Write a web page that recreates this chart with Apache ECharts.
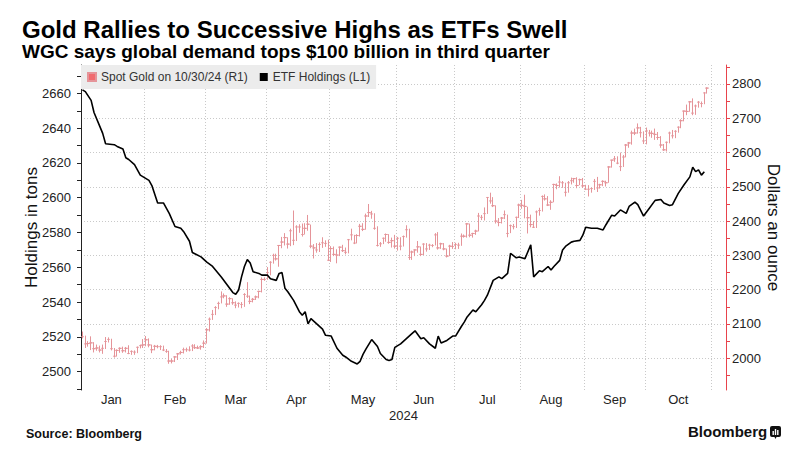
<!DOCTYPE html>
<html><head><meta charset="utf-8">
<script src="https://cdn.jsdelivr.net/npm/echarts@6/dist/echarts.min.js"></script>
<style>html,body{margin:0;padding:0;background:#fff}#c{width:807px;height:466px}</style>
</head><body><div id="c"></div>
<script>
const FONT = '"Liberation Sans", Arial, sans-serif';
const monthLabels = ['Jan','Feb','Mar','Apr','May','Jun','Jul','Aug','Sep','Oct'];
const leftLabelValues = [2500,2520,2540,2560,2580,2600,2620,2640,2660];
const leftTickValues = [2490,2500,2510,2520,2530,2540,2550,2560,2570,2580,2590,2600,2610,2620,2630,2640,2650,2660,2670];
const rightLabelValues = [2000,2100,2200,2300,2400,2500,2600,2700,2800];
const rightTickValues = [1950,2000,2050,2100,2150,2200,2250,2300,2350,2400,2450,2500,2550,2600,2650,2700,2750,2800,2850];

// Spot gold, one value per weekday from 2024-01-02 to 2024-10-30
const goldClose = [
 2063,2042,2043,2045,2028,2030,2024,2029,2049,2055,2028,2006,2023,2029,2022,2029,2014,2020,2018,2032,2037,2039,
 2054,2039,2025,2035,2034,2034,2024,2020,1992,1992,2004,2013,2017,2025,2025,2024,2036,2031,2030,2034,2044,
 2083,2114,2128,2148,2160,2179,2182,2158,2174,2162,2155,2160,2157,2186,2181,2166,2172,2179,2195,2230,2230,
 2250,2280,2300,2290,2329,2339,2352,2333,2372,2344,2383,2383,2361,2379,2391,2327,2322,2316,2332,2337,2335,2286,
 2320,2303,2301,2324,2314,2309,2346,2360,2336,2358,2385,2376,2415,2425,2421,2379,2329,2334,2350,2361,2338,2343,2327,
 2350,2327,2355,2375,2294,2310,2316,2325,2303,2333,2319,2330,2329,2360,2322,2334,2319,2298,2327,2326,
 2332,2330,2356,2356,2392,2359,2364,2371,2415,2411,2422,2469,2459,2445,2400,2396,2409,2419,2364,2387,2384,2411,2447,
 2446,2443,2410,2390,2382,2427,2431,2472,2465,2447,2455,2507,2504,2514,2512,2484,2512,2518,2524,2504,2521,2503,
 2493,2493,2495,2516,2497,2506,2516,2512,2558,2578,2582,2569,2559,2587,2622,2628,2657,2657,2672,2658,2634,
 2663,2657,2656,2653,2644,2622,2608,2630,2657,2649,2662,2674,2693,2721,2720,2748,2715,2736,2747,2743,2774,2788
];
const goldLow = [
 2058,2030,2034,2024,2017,2022,2017,2013,2027,2046,2023,2002,2005,2016,2016,2017,2012,2010,2010,2015,2029,2030,
 2035,2032,2015,2023,2029,2024,2021,2016,1984,1985,1989,1995,2011,2014,2019,2020,2021,2027,2027,2025,2030,
 2043,2078,2112,2126,2143,2160,2175,2150,2156,2156,2146,2148,2146,2150,2176,2158,2163,2170,2175,2192,2226,
 2229,2242,2276,2285,2267,2321,2329,2320,2327,2330,2342,2366,2355,2361,2372,2321,2291,2308,2310,2322,2325,2285,
 2281,2298,2277,2298,2310,2303,2306,2344,2333,2335,2355,2371,2375,2412,2407,2375,2326,2325,2333,2340,2334,2323,2320,
 2314,2315,2326,2352,2287,2287,2298,2308,2298,2301,2311,2316,2324,2329,2317,2319,2315,2294,2298,2319,
 2318,2319,2328,2352,2352,2353,2352,2360,2370,2403,2402,2421,2451,2441,2393,2385,2393,2406,2353,2365,2376,2380,2409,
 2436,2408,2364,2382,2380,2380,2416,2428,2460,2444,2433,2455,2493,2498,2497,2472,2483,2507,2512,2496,2505,2497,
 2492,2472,2483,2491,2485,2495,2502,2501,2512,2556,2573,2566,2546,2558,2586,2614,2623,2651,2655,2644,2625,
 2624,2647,2643,2637,2637,2614,2605,2603,2627,2641,2642,2658,2671,2691,2709,2719,2709,2710,2731,2732,2741,2772
];
const goldHigh = [
 2078,2066,2050,2064,2047,2040,2037,2040,2062,2061,2057,2030,2026,2032,2034,2033,2038,2023,2023,2034,2040,2056,
 2065,2058,2040,2039,2039,2038,2037,2027,2022,1998,2006,2015,2022,2031,2031,2035,2041,2041,2037,2038,2052,
 2088,2119,2141,2152,2165,2195,2189,2184,2178,2175,2166,2163,2164,2190,2222,2183,2176,2183,2197,2236,2236,
 2266,2283,2305,2305,2330,2354,2365,2353,2378,2431,2388,2391,2393,2394,2418,2390,2333,2336,2338,2353,2344,2346,
 2327,2326,2318,2326,2331,2323,2348,2378,2360,2362,2392,2394,2422,2450,2430,2423,2385,2339,2352,2364,2362,2352,2360,
 2354,2353,2358,2388,2378,2314,2317,2342,2326,2335,2336,2334,2333,2365,2368,2337,2336,2320,2331,2339,
 2337,2337,2364,2361,2394,2393,2366,2375,2424,2418,2440,2470,2483,2470,2446,2409,2412,2431,2419,2390,2392,2413,2451,
 2462,2477,2442,2419,2400,2431,2439,2475,2478,2473,2461,2509,2510,2531,2517,2512,2517,2527,2526,2528,2524,2526,
 2506,2505,2498,2523,2529,2509,2519,2518,2560,2578,2590,2589,2600,2593,2625,2631,2664,2670,2685,2675,2662,
 2673,2666,2664,2670,2660,2648,2625,2632,2661,2666,2665,2676,2697,2722,2740,2749,2758,2740,2750,2749,2775,2790
];

// ETF holdings (tons)
const etfDates = ['01-02','01-03','01-05','01-08','01-10','01-11','01-12','01-17','01-18','01-22','01-23','01-24','01-26','01-30',
 '02-02','02-05','02-07','02-09','02-13','02-15','02-19','02-20','02-22','02-23','02-28',
 '03-01','03-05','03-08','03-12','03-14','03-15','03-18','03-19','03-20','03-21','03-22','03-25','03-27','03-28',
 '04-01','04-02','04-04','04-05','04-08','04-09','04-10','04-12','04-16','04-17','04-18','04-19','04-22','04-24','04-26','04-29',
 '05-01','05-03','05-07','05-08','05-10','05-14','05-15','05-16','05-17','05-21','05-23','05-24','05-28','05-29','05-30','05-31',
 '06-04','06-06','06-10','06-11','06-13','06-14','06-18','06-20','06-21','06-24','06-26','06-28',
 '07-01','07-03','07-04','07-05','07-09','07-10','07-12','07-15','07-16','07-18','07-22','07-23','07-25','07-26','07-30','07-31',
 '08-02','08-06','08-07','08-09','08-12','08-14','08-15','08-16','08-20','08-21','08-22','08-26','08-27','08-29','08-30',
 '09-02','09-04','09-06','09-10','09-11','09-13','09-16','09-18','09-20','09-23','09-25','09-26','09-30',
 '10-02','10-04','10-08','10-09','10-11','10-14','10-16','10-18','10-22','10-23','10-24','10-25','10-28','10-29'];
const etfTons = [2662,2661,2656,2649,2641,2637,2631,2630.5,2629.5,2628,2623,2622,2619,2613,
 2610,2607,2597,2597,2591,2583.5,2582.5,2580.5,2575,2568.5,2566,
 2563,2560.5,2554.5,2550,2545.5,2544.5,2547,2554.5,2560.5,2564.5,2562.5,2557.5,2556.5,2555.5,
 2555.5,2553.5,2552.5,2556.5,2557,2548,2546,2541,2534.5,2532.5,2534.5,2527.5,2530.5,2527.5,2524.5,2521,
 2520.5,2513.5,2509.5,2508.5,2506,2504.5,2506,2510,2513,2518.5,2514.5,2510.5,2507,2506.5,2507,2514,
 2516,2519,2522,2523.5,2519,2519.5,2516,2513.5,2520.5,2516.5,2518,2520.5,
 2520.5,2526,2528.5,2531.5,2535.5,2534.5,2538.5,2541,2544,2552.5,2554.5,2553.5,2556.5,2568,2565.5,2566,
 2565,2573,2554.5,2558,2557.5,2560.5,2558.5,2560.5,2564,2570,2572,2574.5,2575,2575.5,2578.5,
 2583,2582.5,2582.5,2581.5,2584.5,2590,2589.5,2593,2591,2595,2597.5,2596,2589.5,
 2594,2598.5,2599,2597,2595.5,2596,2602.5,2607.5,2612,2617.5,2615,2616,2613,2615];

// weekday categories (axis runs to 2024-11-07)
const categories = [];
for (let t = Date.UTC(2024,0,2); t <= Date.UTC(2024,10,7); t += 86400000) {
  const d = new Date(t), wd = d.getUTCDay();
  if (wd === 0 || wd === 6) continue;
  categories.push(d.toISOString().slice(0,10));
}
const monthFirst = {}, monthLast = {};
categories.forEach((c,i) => { const m = +c.slice(5,7) - 1; if (!(m in monthFirst)) monthFirst[m] = i; monthLast[m] = i; });
const labelAt = {};
monthLabels.forEach((name, m) => { labelAt[Math.floor((monthFirst[m] + monthLast[m]) / 2)] = name; });
const boundaries = new Set(Object.values(monthFirst).filter(i => i > 0));

const goldData = goldClose.map((c,i) => [c, c, goldLow[i], goldHigh[i]]);
const etfData = etfDates.map((d,i) => ['2024-' + d, etfTons[i]]);

const RED = '#e8434c';
const BAR = '#e59499';
const GRIDC = '#c9c9c9';
const plain = (v) => String(v);
const chart = echarts.init(document.getElementById('c'), null, {renderer: 'svg'});
chart.setOption({
  animation: false,
  backgroundColor: '#fff',
  textStyle: {fontFamily: FONT},
  title: [
    {text: 'Gold Rallies to Successive Highs as ETFs Swell', left: 22, top: 18, padding: 0,
     textStyle: {fontSize: 24, lineHeight: 22, fontWeight: 'bold', color: '#000', fontFamily: FONT}},
    {text: 'WGC says global demand tops $100 billion in third quarter', left: 22, top: 43, padding: 0,
     textStyle: {fontSize: 19, lineHeight: 17, fontWeight: 'bold', color: '#000', fontFamily: FONT}}
  ],
  legend: {
    left: 81, top: 65, padding: [6, 6, 6, 6], itemWidth: 8, itemHeight: 8, itemGap: 12,
    backgroundColor: '#ececec', selectedMode: false,
    textStyle: {fontSize: 12, color: '#333', fontFamily: FONT},
    data: [
      {name: 'Spot Gold on 10/30/24 (R1)', icon: 'rect', itemStyle: {color: '#f06a6e'}},
      {name: 'ETF Holdings (L1)', icon: 'rect', itemStyle: {color: '#000'}}
    ]
  },
  grid: {left: 81, right: 81, top: 65, bottom: 76, outerBoundsMode: 'none', containLabel: false},
  xAxis: {
    type: 'category', data: categories, boundaryGap: true,
    axisLine: {show: false}, axisTick: {show: false},
    axisLabel: {interval: (i) => (i in labelAt), formatter: (v, i) => labelAt[i] || '', margin: 3,
      fontSize: 13, color: '#222', fontFamily: FONT},
    splitLine: {show: true, interval: (i) => boundaries.has(i), lineStyle: {type: [1, 2], color: GRIDC, width: 1}},
    name: '2024', nameLocation: 'middle', nameGap: 19, nameMoveOverlap: false,
    nameTextStyle: {fontSize: 13, color: '#222', fontFamily: FONT}
  },
  yAxis: [
    {type: 'value', position: 'left', min: 2489.5, max: 2676.3,
     axisLine: {show: true, lineStyle: {color: '#222', width: 1}},
     axisTick: {show: true, length: 4, customValues: leftTickValues, lineStyle: {color: '#222'}},
     axisLabel: {customValues: leftLabelValues, formatter: plain, margin: 10, fontSize: 13, color: '#222', fontFamily: FONT},
     splitLine: {show: false},
     name: 'Holdings in tons', nameLocation: 'middle', nameGap: 41, nameMoveOverlap: false,
     nameTextStyle: {fontSize: 17, color: '#111', fontFamily: FONT}},
    {type: 'value', position: 'right', min: 1907.5, max: 2855.4,
     axisLine: {show: true, lineStyle: {color: RED, width: 1}},
     axisTick: {show: true, length: 4, customValues: rightTickValues, lineStyle: {color: RED}},
     axisLabel: {customValues: rightLabelValues, formatter: plain, margin: 6, fontSize: 13, color: '#222', fontFamily: FONT},
     splitLine: {show: false},
     name: 'Dollars an ounce', nameLocation: 'middle', nameGap: 39, nameRotate: -90, nameMoveOverlap: false,
     nameTextStyle: {fontSize: 17, color: '#111', fontFamily: FONT}},
    {type: 'value', position: 'right', min: 1907.5, max: 2855.4,
     axisLine: {show: false}, axisLabel: {show: false},
     axisTick: {show: false, customValues: rightLabelValues},
     splitLine: {show: true, lineStyle: {type: [1, 2], color: GRIDC, width: 1}}}
  ],
  series: [
    {name: 'Spot Gold on 10/30/24 (R1)', type: 'candlestick', yAxisIndex: 1, data: goldData,
     barWidth: 3, silent: true,
     itemStyle: {color: BAR, color0: BAR, borderColor: BAR, borderColor0: BAR, borderColorDoji: BAR, borderWidth: 1}},
    {name: 'ETF Holdings (L1)', type: 'line', yAxisIndex: 0, data: etfData, symbol: 'none', silent: true,
     lineStyle: {color: '#000', width: 1.6}, itemStyle: {color: '#000'}}
  ],
  graphic: [
    {type: 'text', left: 26, top: 427, style: {text: 'Source: Bloomberg', font: 'bold 12.5px ' + FONT, fill: '#111'}},
    {type: 'text', left: 688, top: 424, style: {text: 'Bloomberg', font: 'bold 15px ' + FONT, fill: '#111'}},
    {type: 'group', left: 770, top: 426, children: [
      {type: 'rect', shape: {x: 0, y: 0, width: 11, height: 11, r: 2}, style: {fill: '#111'}},
      {type: 'polygon', shape: {points: [[4, 10], [7, 10], [5.5, 13]]}, style: {fill: '#111'}},
      {type: 'rect', shape: {x: 2.5, y: 5, width: 1.4, height: 4}, style: {fill: '#fff'}},
      {type: 'rect', shape: {x: 4.8, y: 3, width: 1.4, height: 6}, style: {fill: '#fff'}},
      {type: 'rect', shape: {x: 7.1, y: 4, width: 1.4, height: 5}, style: {fill: '#fff'}}
    ]}
  ]
});
</script>
</body></html>
